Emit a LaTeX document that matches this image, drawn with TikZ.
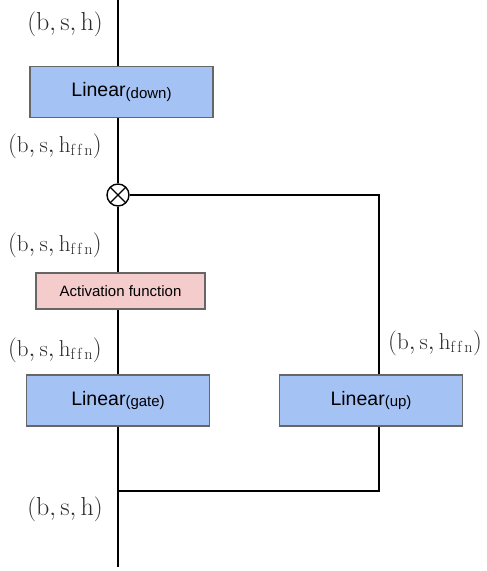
\documentclass[tikz,border=0pt]{standalone}
\usepackage{fontspec}
\setsansfont{Liberation Sans}
\definecolor{boxblue}{HTML}{A4C2F4}
\definecolor{boxpink}{HTML}{F4CCCC}
\definecolor{boxedge}{HTML}{666666}
\definecolor{labelgray}{HTML}{2A2A2A}
\newcommand{\shp}[1]{$(\mathrm{b},\mathrm{s},\mathrm{#1})$}
\newcommand{\ffn}{h_{\mathrm{f}\mkern2.5mu\mathrm{f}\mkern2.5mu\mathrm{n}}}
\newcommand{\lin}[1]{\fontsize{19.5}{22}\selectfont Linear\raisebox{-1.5pt}{\fontsize{15}{18}\selectfont(#1)}}
\begin{document}
\begin{tikzpicture}[x=1pt,y=-1pt,
  layer/.style={draw=boxedge,line width=1.2pt,fill=boxblue,minimum width=183pt,minimum height=51pt,inner sep=0pt,font=\sffamily},
  actbox/.style={draw=boxedge,line width=1.2pt,fill=boxpink,minimum width=169pt,minimum height=36pt,inner sep=0pt,font=\sffamily\fontsize{15}{18}\selectfont},
  wire/.style={line width=1.4pt,black},
  shape label/.style={text=labelgray,inner sep=0pt,font=\fontsize{23}{27}\selectfont},
  big shape label/.style={shape label,font=\fontsize{26}{30}\selectfont},
  mult/.style={circle,draw,line width=1.4pt,minimum size=22pt,inner sep=0pt,path picture={
      \draw[line width=1.4pt] (path picture bounding box.north west) -- (path picture bounding box.south east)
        (path picture bounding box.north east) -- (path picture bounding box.south west);}}]
\useasboundingbox (0,0) rectangle (487,571);

% blocks
\node[layer] (down) at (121.5,92) {\lin{down}};
\node[mult] (mul) at (118,195) {};
\node[actbox] (act) at (120.5,291) {Activation function};
\node[layer] (gate) at (118,400.5) {\lin{gate}};
\node[layer] (up) at (371,400.5) {\lin{up}};

% wire ends and corners
\coordinate (top) at (118,0);
\coordinate (bottom) at (118,567);
\coordinate (join) at (118,491);
\coordinate (rtop) at (379,195);
\coordinate (rbot) at (379,491);

% main path
\draw[wire] (top) -- (top |- down.north);
\draw[wire] (mul.north |- down.south) -- (mul.north);
\draw[wire] (mul.south) -- (mul.south |- act.north);
\draw[wire] (mul.south |- act.south) -- (mul.south |- gate.north);
\draw[wire] (gate.south -| top) -- (bottom);

% up-projection branch
\draw[wire] (mul.east) -- (rtop) -- (rtop |- up.north);
\draw[wire] (rbot |- up.south) -- (rbot) -- (join);

% tensor shapes
\node[big shape label] (s1) at (65,24) {\shp{h}};
\node[shape label,anchor=east] (s2) at (102,146) {\shp{\ffn}};
\node[shape label,anchor=east] (s3) at (102,245) {\shp{\ffn}};
\node[shape label,anchor=east] (s4) at (102,350) {\shp{\ffn}};
\node[shape label,anchor=west] (s5) at (388,343) {\shp{\ffn}};
\node[big shape label] (s6) at (65,509) {\shp{h}};
\end{tikzpicture}
\end{document}
